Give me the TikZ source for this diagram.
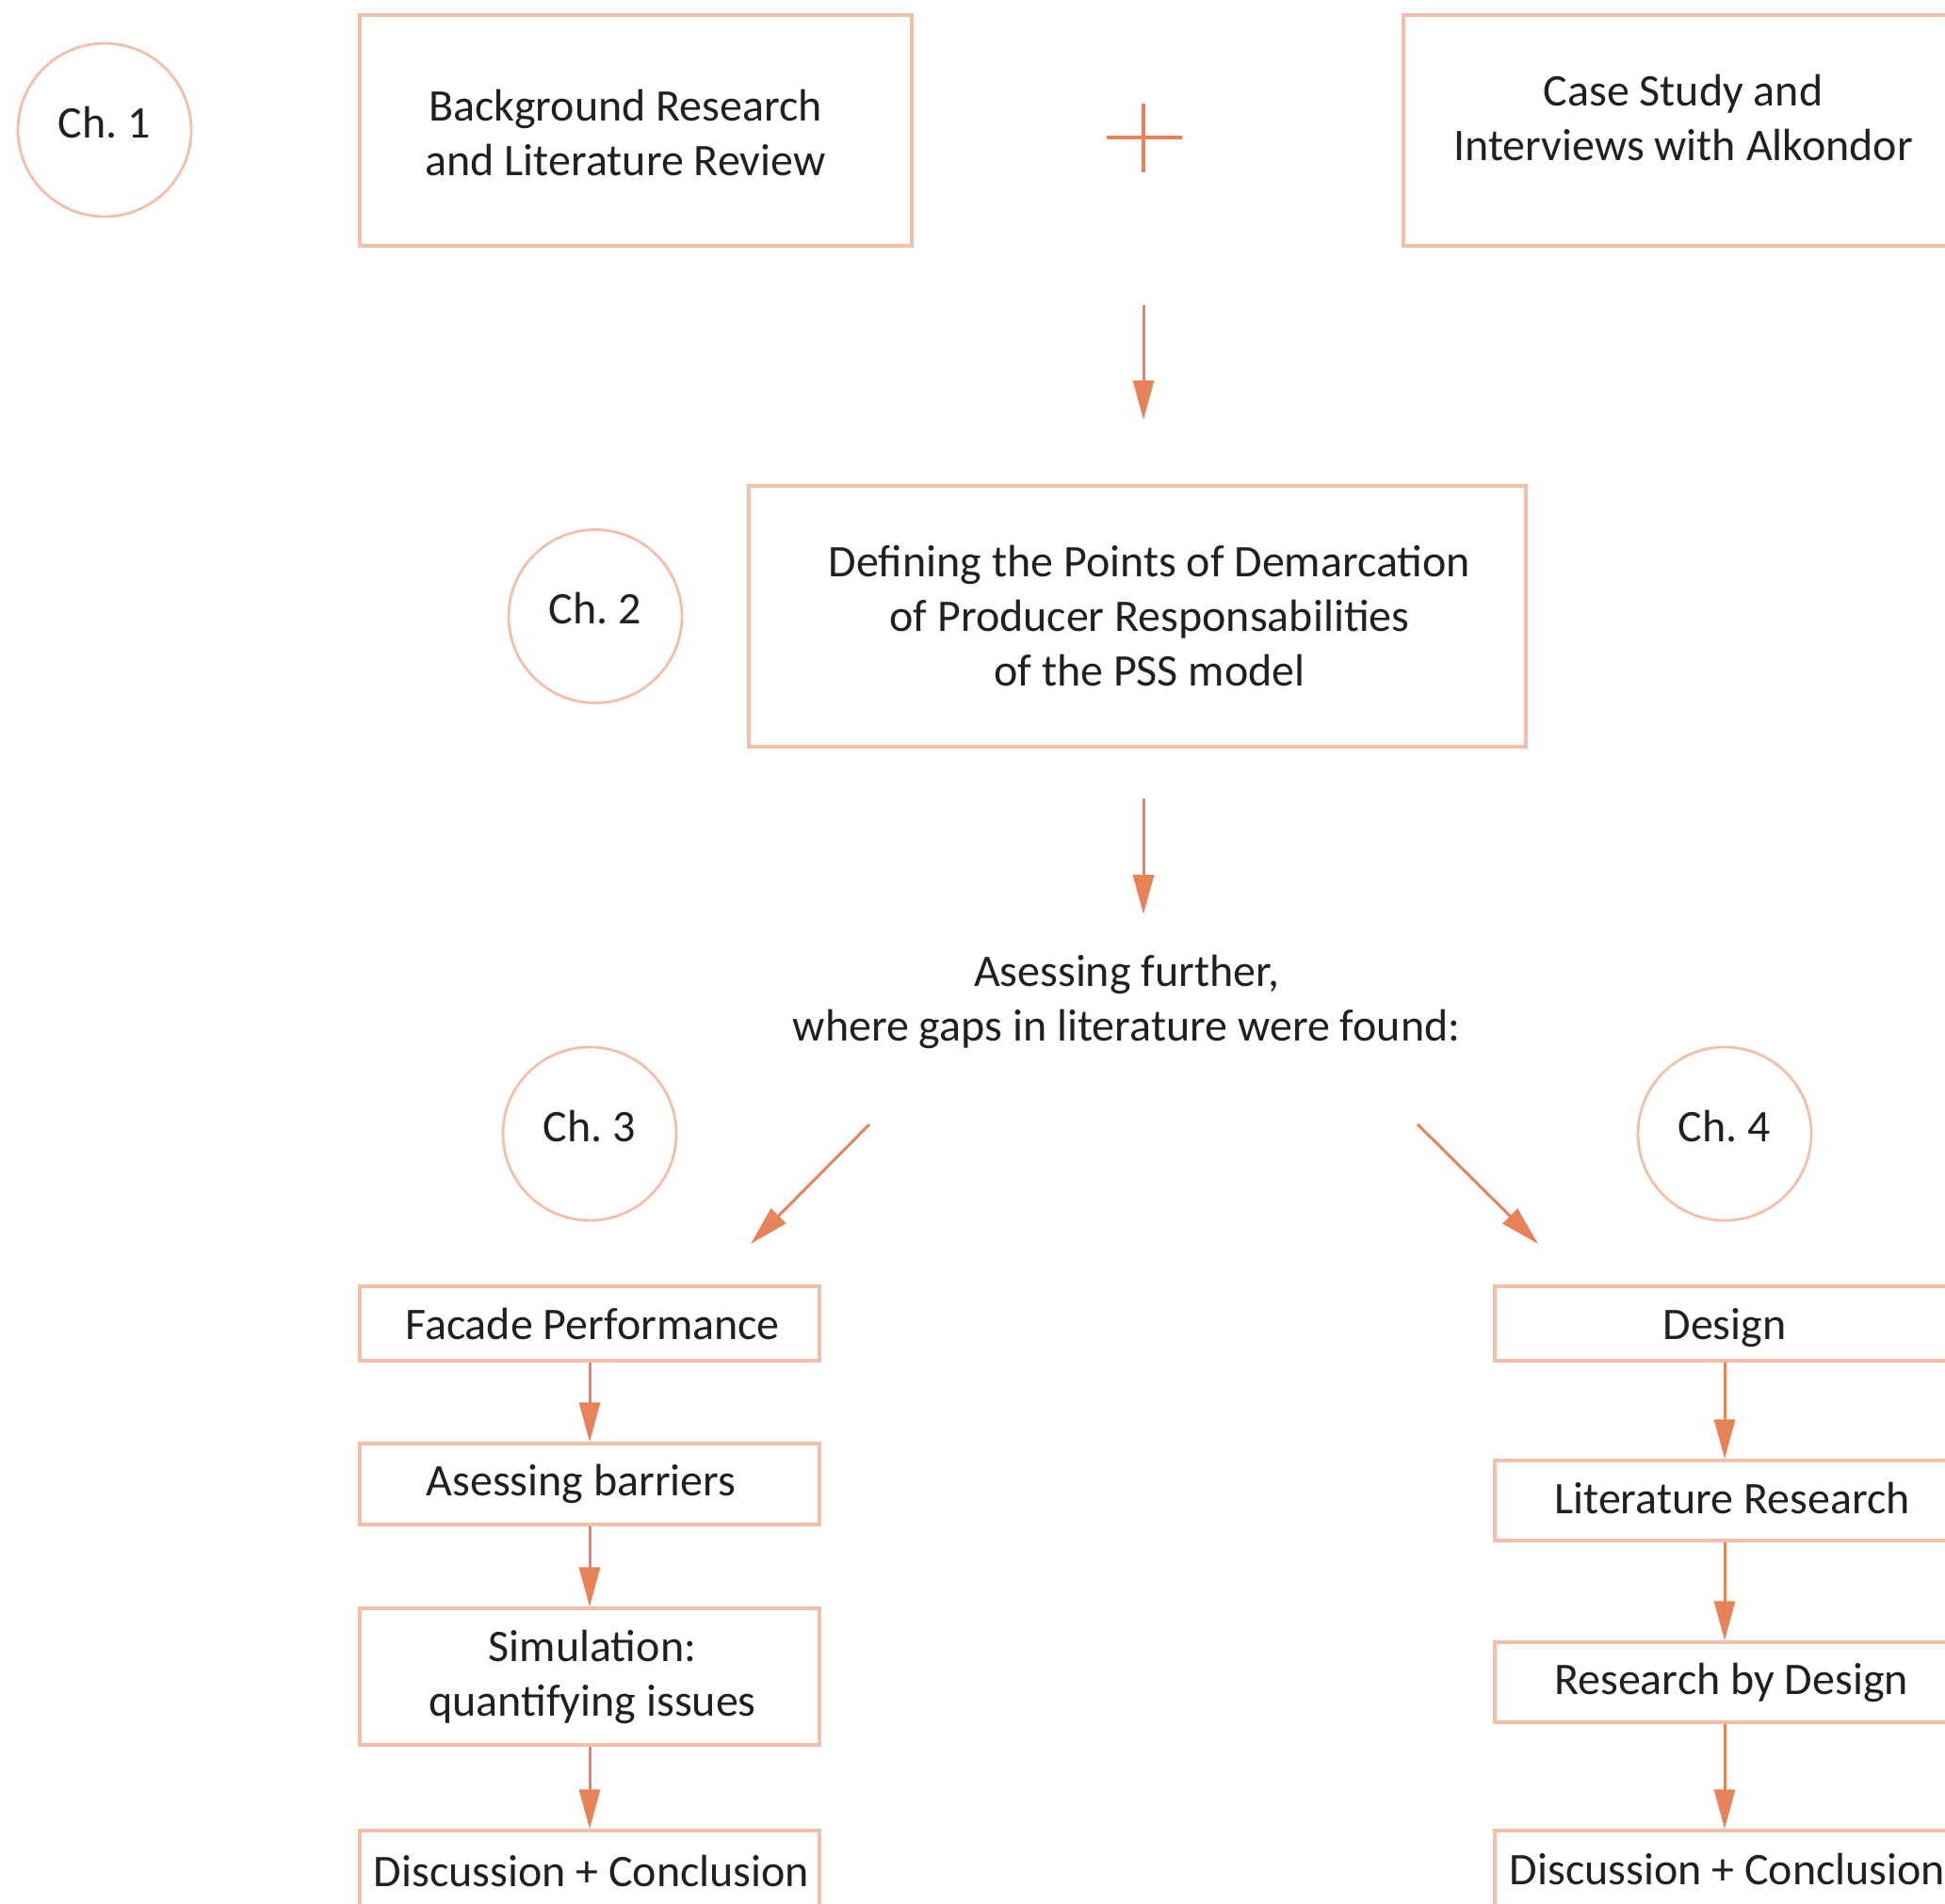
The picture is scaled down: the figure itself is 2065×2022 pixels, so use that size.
\documentclass[tikz,border=0pt]{standalone}
\usepackage{fontspec}
\setmainfont{Carlito}
\usetikzlibrary{arrows.meta}
\definecolor{boxline}{RGB}{245,190,168}
\definecolor{arrowc}{RGB}{232,130,88}
\definecolor{ink}{RGB}{35,31,32}
\begin{document}
\frenchspacing
\begin{tikzpicture}[x=0.5pt,y=-0.5pt,
  every node/.style={font=\fontsize{24}{29}\selectfont, text=ink, align=center, inner sep=0pt},
  box/.style={draw=boxline, line width=1.6pt, rectangle},
  chap/.style={draw=boxline, line width=1.4pt, circle, minimum size=92pt},
  flow/.style={draw=arrowc, line width=1.5pt, -{Triangle[length=21pt,width=11pt]}},
  cross/.style={draw=arrowc, line width=2pt},
]
\useasboundingbox (0,0) rectangle (2065,2022);
\clip (0,0) rectangle (2065,2022);

% chapter 1: the two starting points
\node[chap] (ch1) at (111,138) {};
\node (ch1t) at ([yshift=4pt]ch1.center) {Ch. 1};
\node[box, minimum width=293pt, minimum height=122.5pt] (bg) at (675,138.5) {};
\node (bgt) at ([xshift=-5.5pt,yshift=-1.3pt]bg.center) {Background Research\\and Literature Review};
\node[box, minimum width=293pt, minimum height=122.5pt] (cs) at (1783,138.5) {};
\node (cst) at ([xshift=2pt,yshift=6.5pt]cs.center) {Case Study and\\Interviews with Alkondor};

% the plus between them
\coordinate (pl) at (1175,146);
\coordinate (pr) at (1255,146);
\coordinate (pt) at (1214,110);
\coordinate (pb) at (1214,183);
\draw[cross] (pl) -- (pr);
\draw[cross] (pt) -- (pb);

% chapter 2
\coordinate (a1s) at (1214,324);
\coordinate (a1e) at (1214,446);
\draw[flow] (a1s) -- (a1e);
\node[chap] (ch2) at (632,654.5) {};
\node (ch2t) at ([yshift=4pt]ch2.center) {Ch. 2};
\node[box, minimum width=412.5pt, minimum height=138.5pt] (dp) at (1207.5,654.5) {};
\node (dpt) at ([xshift=6.5pt]dp.center)
  {Defining the Points of Demarcation\\of Producer Responsabilities\\of the PSS model};

\coordinate (a2s) at (1214,848);
\coordinate (a2e) at (1214,971);
\draw[flow] (a2s) -- (a2e);
\node (gap) at (1196,1064) {Asessing further,\\where gaps in literature were found:};

% split into chapters 3 and 4
\node[chap] (ch3) at (626,1204) {};
\node (ch3t) at ([yshift=4pt]ch3.center) {Ch. 3};
\node[chap] (ch4) at (1831,1204) {};
\node (ch4t) at ([yshift=4pt]ch4.center) {Ch. 4};
\coordinate (l1) at (923,1194);
\coordinate (l2) at (797,1321);
\coordinate (r1) at (1505,1194);
\coordinate (r2) at (1633,1321);
\draw[flow] (l1) -- (l2);
\draw[flow] (r1) -- (r2);

% chapter 3 steps
\node[box, minimum width=244pt, minimum height=39.5pt] (fp) at (626,1405.5) {};
\node (fpt) at ([xshift=1.5pt]fp.center) {Facade Performance};
\node[box, minimum width=244pt, minimum height=43pt] (ab) at (626,1576) {};
\node (abt) at ([xshift=-4.5pt]ab.center) {Asessing barriers};
\node[box, minimum width=244pt, minimum height=72.5pt] (sim) at (626,1780.5) {};
\node (simt) at ([xshift=1.5pt]sim.center) {Simulation:\\quantifying issues};
\node[box, minimum width=244pt, minimum height=43pt] (dc3) at (626,1987) {};
\node (dc3t) at ([xshift=1pt]dc3.center) {Discussion + Conclusion};
\draw[flow] (fp) -- (ab);
\draw[flow] (ab) -- (sim);
\draw[flow] (sim) -- (dc3);

% chapter 4 steps
\node[box, minimum width=244pt, minimum height=39.5pt] (de) at (1831,1405.5) {};
\node (det) at ([yshift=-2.5pt]de.center) {Design};
\node[box, minimum width=244pt, minimum height=42.5pt] (lr) at (1831,1593.5) {};
\node (lrt) at ([xshift=4pt,yshift=1.3pt]lr.center) {Literature Research};
\node[box, minimum width=244pt, minimum height=42.5pt] (rd) at (1831,1786.5) {};
\node (rdt) at ([xshift=3.5pt]rd.center) {Research by Design};
\node[box, minimum width=244pt, minimum height=43pt] (dc4) at (1831,1987) {};
\node (dc4t) at ([xshift=1.5pt,yshift=1pt]dc4.center) {Discussion + Conclusion};
\draw[flow] (de) -- (lr);
\draw[flow] (lr) -- (rd);
\draw[flow] (rd) -- (dc4);
\end{tikzpicture}
\end{document}
